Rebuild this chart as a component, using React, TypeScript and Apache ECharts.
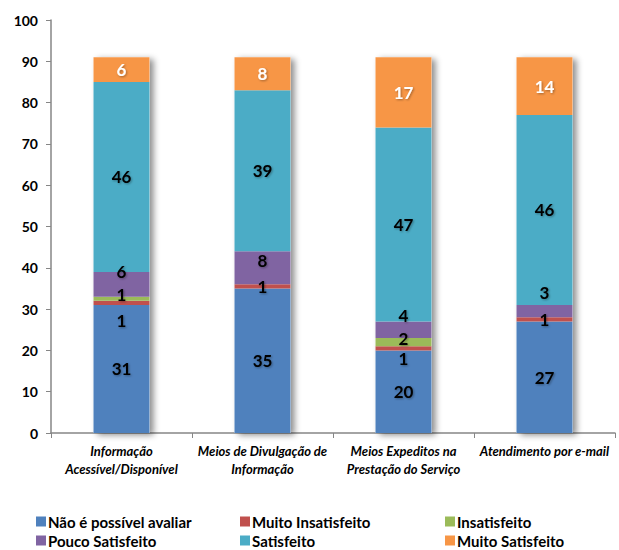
import React, { useEffect, useRef } from "react";
import * as echarts from "echarts";

// Categories and stacked survey counts (bottom to top)
const categories = [
  "Informação\nAcessível/Disponível",
  "Meios de Divulgação de\nInformação",
  "Meios Expeditos na\nPrestação do Serviço",
  "Atendimento por e-mail",
];
const naoPossivelAvaliar = [31, 35, 20, 27];
const muitoInsatisfeito = [1, 1, 1, 1];
const insatisfeito = [1, 0, 2, 0];
const poucoSatisfeito = [6, 8, 4, 3];
const satisfeito = [46, 39, 47, 46];
const muitoSatisfeito = [6, 8, 17, 14];

const seriesNames = [
  "Não é possível avaliar",
  "Muito Insatisfeito",
  "Insatisfeito",
  "Pouco Satisfeito",
  "Satisfeito",
  "Muito Satisfeito",
];
const seriesValues = [
  naoPossivelAvaliar,
  muitoInsatisfeito,
  insatisfeito,
  poucoSatisfeito,
  satisfeito,
  muitoSatisfeito,
];

// Styling
const colors = ["#4F81BD", "#C0504D", "#9BBB59", "#8064A2", "#4BACC6", "#F79646"];
const labelColors = ["#000", "#000", "#000", "#000", "#000", "#fff"];
// Vertical nudges (px) so the labels of thin segments don't collide
const labelNudge = [
  [0, 0, 0, 0],
  [18, 0, 10, 0],
  [-4, 0, -4, 0],
  [-13, -7, -14, -19],
  [0, 0, 0, 0],
  [0, 0, 0, 0],
];
// Legend grid: three columns, two rows
const legendCols = [36, 240, 445];
const legendRows = [514, 533];

const FONT = "Lato, 'Open Sans', sans-serif";

export default function App() {
  const ref = useRef<HTMLDivElement>(null);

  useEffect(() => {
    if (!ref.current) return;
    const chart = echarts.init(ref.current, undefined, { renderer: "svg" });

    const totals = categories.map((_, i) =>
      seriesValues.reduce((s, arr) => s + arr[i], 0)
    );

    const stacked = seriesNames.map((name, si) => ({
      name,
      type: "bar",
      stack: "total",
      barWidth: 56,
      z: 3,
      itemStyle: { color: colors[si] },
      label: {
        show: true,
        position: "inside",
        color: labelColors[si],
        fontFamily: FONT,
        fontWeight: "bold",
        fontSize: 17,
        textShadowColor: "rgba(0,0,0,0.35)",
        textShadowBlur: 2,
        textShadowOffsetX: 1,
        textShadowOffsetY: 1,
        formatter: (p: any) => (p.value ? String(p.value) : ""),
      },
      data: seriesValues[si].map((v, ci) => ({
        value: v,
        label: { offset: [0, labelNudge[si][ci]] },
      })),
    }));

    // Drop-shadow behind each whole column
    const shadow = {
      name: "shadow",
      type: "bar",
      barWidth: 56,
      barGap: "-100%",
      z: 1,
      silent: true,
      itemStyle: {
        color: "#ffffff",
        shadowColor: "rgba(0,0,0,0.45)",
        shadowBlur: 6,
        shadowOffsetX: 4,
        shadowOffsetY: 2,
      },
      label: { show: false },
      data: totals,
    };

    // One legend per entry, laid out as a 3 x 2 grid
    const legends = seriesNames.map((name, i) => ({
      show: true,
      left: legendCols[i % 3],
      top: legendRows[Math.floor(i / 3)],
      padding: 0,
      icon: "rect",
      itemWidth: 10,
      itemHeight: 10,
      selectedMode: false,
      textStyle: {
        fontFamily: FONT,
        fontSize: 15,
        fontWeight: "bold",
        color: "#000",
        padding: [0, 0, 0, -3],
      },
      data: [name],
    }));

    chart.setOption({
      animation: false,
      backgroundColor: "#ffffff",
      grid: { left: 51, right: 4, top: 20, bottom: 117, containLabel: false },
      legend: legends,
      xAxis: {
        type: "category",
        data: categories,
        axisLine: { lineStyle: { color: "#868686", width: 1.5 } },
        axisTick: { show: true, length: 5, lineStyle: { color: "#868686" } },
        axisLabel: {
          interval: 0,
          margin: 9,
          color: "#000",
          fontFamily: FONT,
          fontSize: 13,
          fontWeight: "bold",
          fontStyle: "italic",
          lineHeight: 18,
        },
      },
      yAxis: {
        type: "value",
        min: 0,
        max: 100,
        interval: 10,
        axisLine: { show: true, lineStyle: { color: "#868686", width: 1.5 } },
        axisTick: { show: true, length: 5, lineStyle: { color: "#868686" } },
        splitLine: { show: false },
        axisLabel: {
          margin: 13,
          color: "#000",
          fontFamily: FONT,
          fontSize: 14,
          fontWeight: "bold",
        },
      },
      series: [shadow, ...stacked],
    });

    return () => chart.dispose();
  }, []);

  return (
    <div
      ref={ref}
      style={{ position: "fixed", left: 0, top: 0, width: 619, height: 550, background: "#fff" }}
    />
  );
}
